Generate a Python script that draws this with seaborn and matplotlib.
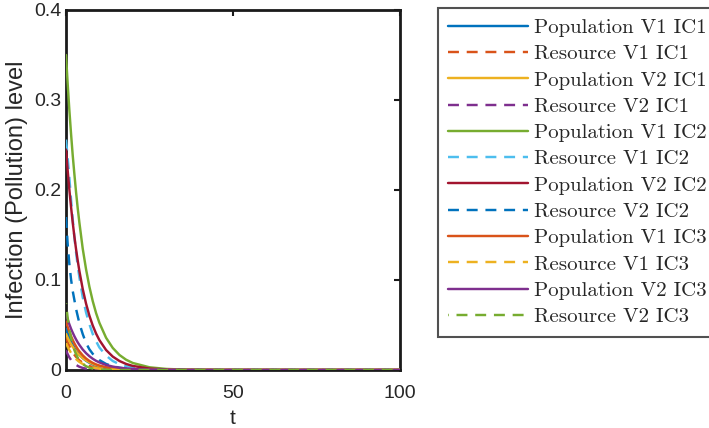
import numpy as np
import matplotlib
matplotlib.use("Agg")
import matplotlib.pyplot as plt
import pandas as pd
import seaborn as sns

# time grid shared by all series
T = [0, 0.5, 1, 1.5, 2, 2.5, 3, 3.5, 4, 5, 6, 7, 8, 9, 10,
     12, 14, 16, 18, 20, 25, 30, 35, 40, 50, 60, 70, 80, 90, 100]

POP_V1_IC1 = [0.046, 0.0406, 0.0358, 0.0316, 0.0279, 0.0246, 0.0217, 0.0192, 0.0169, 0.0132, 0.0103, 0.0080, 0.0062, 0.0048, 0.0038,
              0.0023, 0.0014, 0.0008, 0.0005, 0.0003, 0.0001, 0, 0, 0, 0, 0, 0, 0, 0, 0]
RES_V1_IC1 = [0.036, 0.0310, 0.0267, 0.0230, 0.0198, 0.0170, 0.0146, 0.0126, 0.0108, 0.0080, 0.0060, 0.0044, 0.0033, 0.0024, 0.0018,
              0.0010, 0.0005, 0.0003, 0.0002, 0.0001, 0, 0, 0, 0, 0, 0, 0, 0, 0, 0]
POP_V2_IC1 = [0.040, 0.0358, 0.0321, 0.0288, 0.0258, 0.0231, 0.0207, 0.0185, 0.0166, 0.0133, 0.0107, 0.0086, 0.0069, 0.0055, 0.0044,
              0.0029, 0.0018, 0.0012, 0.0008, 0.0005, 0.0002, 0.0001, 0, 0, 0, 0, 0, 0, 0, 0]
RES_V2_IC1 = [0.022, 0.0176, 0.0140, 0.0112, 0.0089, 0.0071, 0.0057, 0.0046, 0.0036, 0.0023, 0.0015, 0.0009, 0.0006, 0.0004, 0.0002,
              0.0001, 0, 0, 0, 0, 0, 0, 0, 0, 0, 0, 0, 0, 0, 0]
POP_V1_IC2 = [0.350, 0.318, 0.289, 0.263, 0.239, 0.218, 0.198, 0.180, 0.164, 0.135, 0.112, 0.0926, 0.0766, 0.0633, 0.0524,
              0.0358, 0.0245, 0.0167, 0.0114, 0.0078, 0.0030, 0.0012, 0.0005, 0.0002, 0, 0, 0, 0, 0, 0]
RES_V1_IC2 = [0.256, 0.236, 0.214, 0.190, 0.168, 0.148, 0.131, 0.116, 0.103, 0.081, 0.064, 0.051, 0.040, 0.032, 0.025,
              0.016, 0.010, 0.0064, 0.0041, 0.0026, 0.0009, 0.0003, 0.0001, 0, 0, 0, 0, 0, 0, 0]
POP_V2_IC2 = [0.245, 0.2217, 0.2006, 0.1815, 0.1642, 0.1486, 0.1345, 0.1217, 0.1101, 0.0901, 0.0738, 0.0604, 0.0495, 0.0405, 0.0332,
              0.0222, 0.0149, 0.0100, 0.0067, 0.0045, 0.0016, 0.0006, 0.0002, 0.0001, 0, 0, 0, 0, 0, 0]
RES_V2_IC2 = [0.170, 0.140, 0.118, 0.101, 0.088, 0.078, 0.068, 0.060, 0.052, 0.040, 0.030, 0.023, 0.018, 0.014, 0.011,
              0.0067, 0.0042, 0.0026, 0.0016, 0.0010, 0.0003, 0.0001, 0, 0, 0, 0, 0, 0, 0, 0]
POP_V1_IC3 = [0.054, 0.0479, 0.0425, 0.0377, 0.0334, 0.0296, 0.0263, 0.0233, 0.0207, 0.0163, 0.0128, 0.0101, 0.0079, 0.0062, 0.0049,
              0.0030, 0.0019, 0.0012, 0.0007, 0.0004, 0.0001, 0, 0, 0, 0, 0, 0, 0, 0, 0]
RES_V1_IC3 = [0.030, 0.0258, 0.0222, 0.0191, 0.0165, 0.0142, 0.0122, 0.0105, 0.0090, 0.0067, 0.0050, 0.0037, 0.0027, 0.0020, 0.0015,
              0.0008, 0.0005, 0.0002, 0.0001, 0.0001, 0, 0, 0, 0, 0, 0, 0, 0, 0, 0]
POP_V2_IC3 = [0.062, 0.0561, 0.0508, 0.0459, 0.0416, 0.0376, 0.0340, 0.0308, 0.0279, 0.0228, 0.0187, 0.0153, 0.0125, 0.0102, 0.0084,
              0.0056, 0.0038, 0.0025, 0.0017, 0.0011, 0.0004, 0.0002, 0.0001, 0, 0, 0, 0, 0, 0, 0]
RES_V2_IC3 = [0.074, 0.058, 0.0458, 0.036, 0.0283, 0.0223, 0.0175, 0.0138, 0.0109, 0.0067, 0.0042, 0.0026, 0.0016, 0.0010, 0.0006,
              0.0002, 0.0001, 0, 0, 0, 0, 0, 0, 0, 0, 0, 0, 0, 0, 0]

LABELS = ["Population V1 IC1", "Resource V1 IC1", "Population V2 IC1", "Resource V2 IC1",
          "Population V1 IC2", "Resource V1 IC2", "Population V2 IC2", "Resource V2 IC2",
          "Population V1 IC3", "Resource V1 IC3", "Population V2 IC3", "Resource V2 IC3"]
SERIES = [POP_V1_IC1, RES_V1_IC1, POP_V2_IC1, RES_V2_IC1,
          POP_V1_IC2, RES_V1_IC2, POP_V2_IC2, RES_V2_IC2,
          POP_V1_IC3, RES_V1_IC3, POP_V2_IC3, RES_V2_IC3]

# matlab default color order
COLORS = ["#0072BD", "#D95319", "#EDB120", "#7E2F8E", "#77AC30", "#4DBEEE", "#A2142F"]

sns.set_style("white")
plt.rcParams["font.family"] = ["Liberation Sans", "DejaVu Sans"]

fig = plt.figure(figsize=(7.09, 4.28), dpi=100)
ax = fig.add_axes([66 / 709, 58 / 428, 334 / 709, 360 / 428])

for i, (lab, vals) in enumerate(zip(LABELS, SERIES)):
    if lab.startswith("Population"):
        ls = "-"
    else:
        ls = (4.2 if i == 11 else 0, (4.5, 3.2))
    sns.lineplot(x=T, y=vals, ax=ax, color=COLORS[i % 7], linestyle=ls,
                 linewidth=1.75, label=lab, zorder=3)

ax.set_xlim(0, 100)
ax.set_ylim(0, 0.4)
ax.set_xticks([0, 50, 100])
ax.set_yticks([0, 0.1, 0.2, 0.3, 0.4])
ax.set_yticklabels(["0", "0.1", "0.2", "0.3", "0.4"])
ax.tick_params(direction="in", length=4, width=1.5, colors="#1a1a1a",
               labelsize=14, top=True, right=True, labelcolor="#262626")
ax.tick_params(axis="y", pad=3.5)
ax.tick_params(axis="x", pad=11)
for s in ax.spines.values():
    s.set_linewidth(2)
    s.set_color("#1a1a1a")
ax.set_xlabel("t", fontsize=15, color="#262626", labelpad=5)
ax.set_ylabel("Infection (Pollution) level", fontsize=17, color="#262626", labelpad=4)

leg = ax.legend(loc="upper left", bbox_to_anchor=(438 / 709, 1 - 8 / 428),
                bbox_transform=fig.transFigure, frameon=True, fancybox=False,
                prop={"family": "cmr10", "size": 15}, handlelength=3.8,
                handletextpad=0.33, labelspacing=0.37, borderaxespad=0,
                borderpad=0.5)
leg.get_frame().set_edgecolor("#262626")
leg.get_frame().set_linewidth(1.5)

fig.savefig("out.png", dpi=100)
